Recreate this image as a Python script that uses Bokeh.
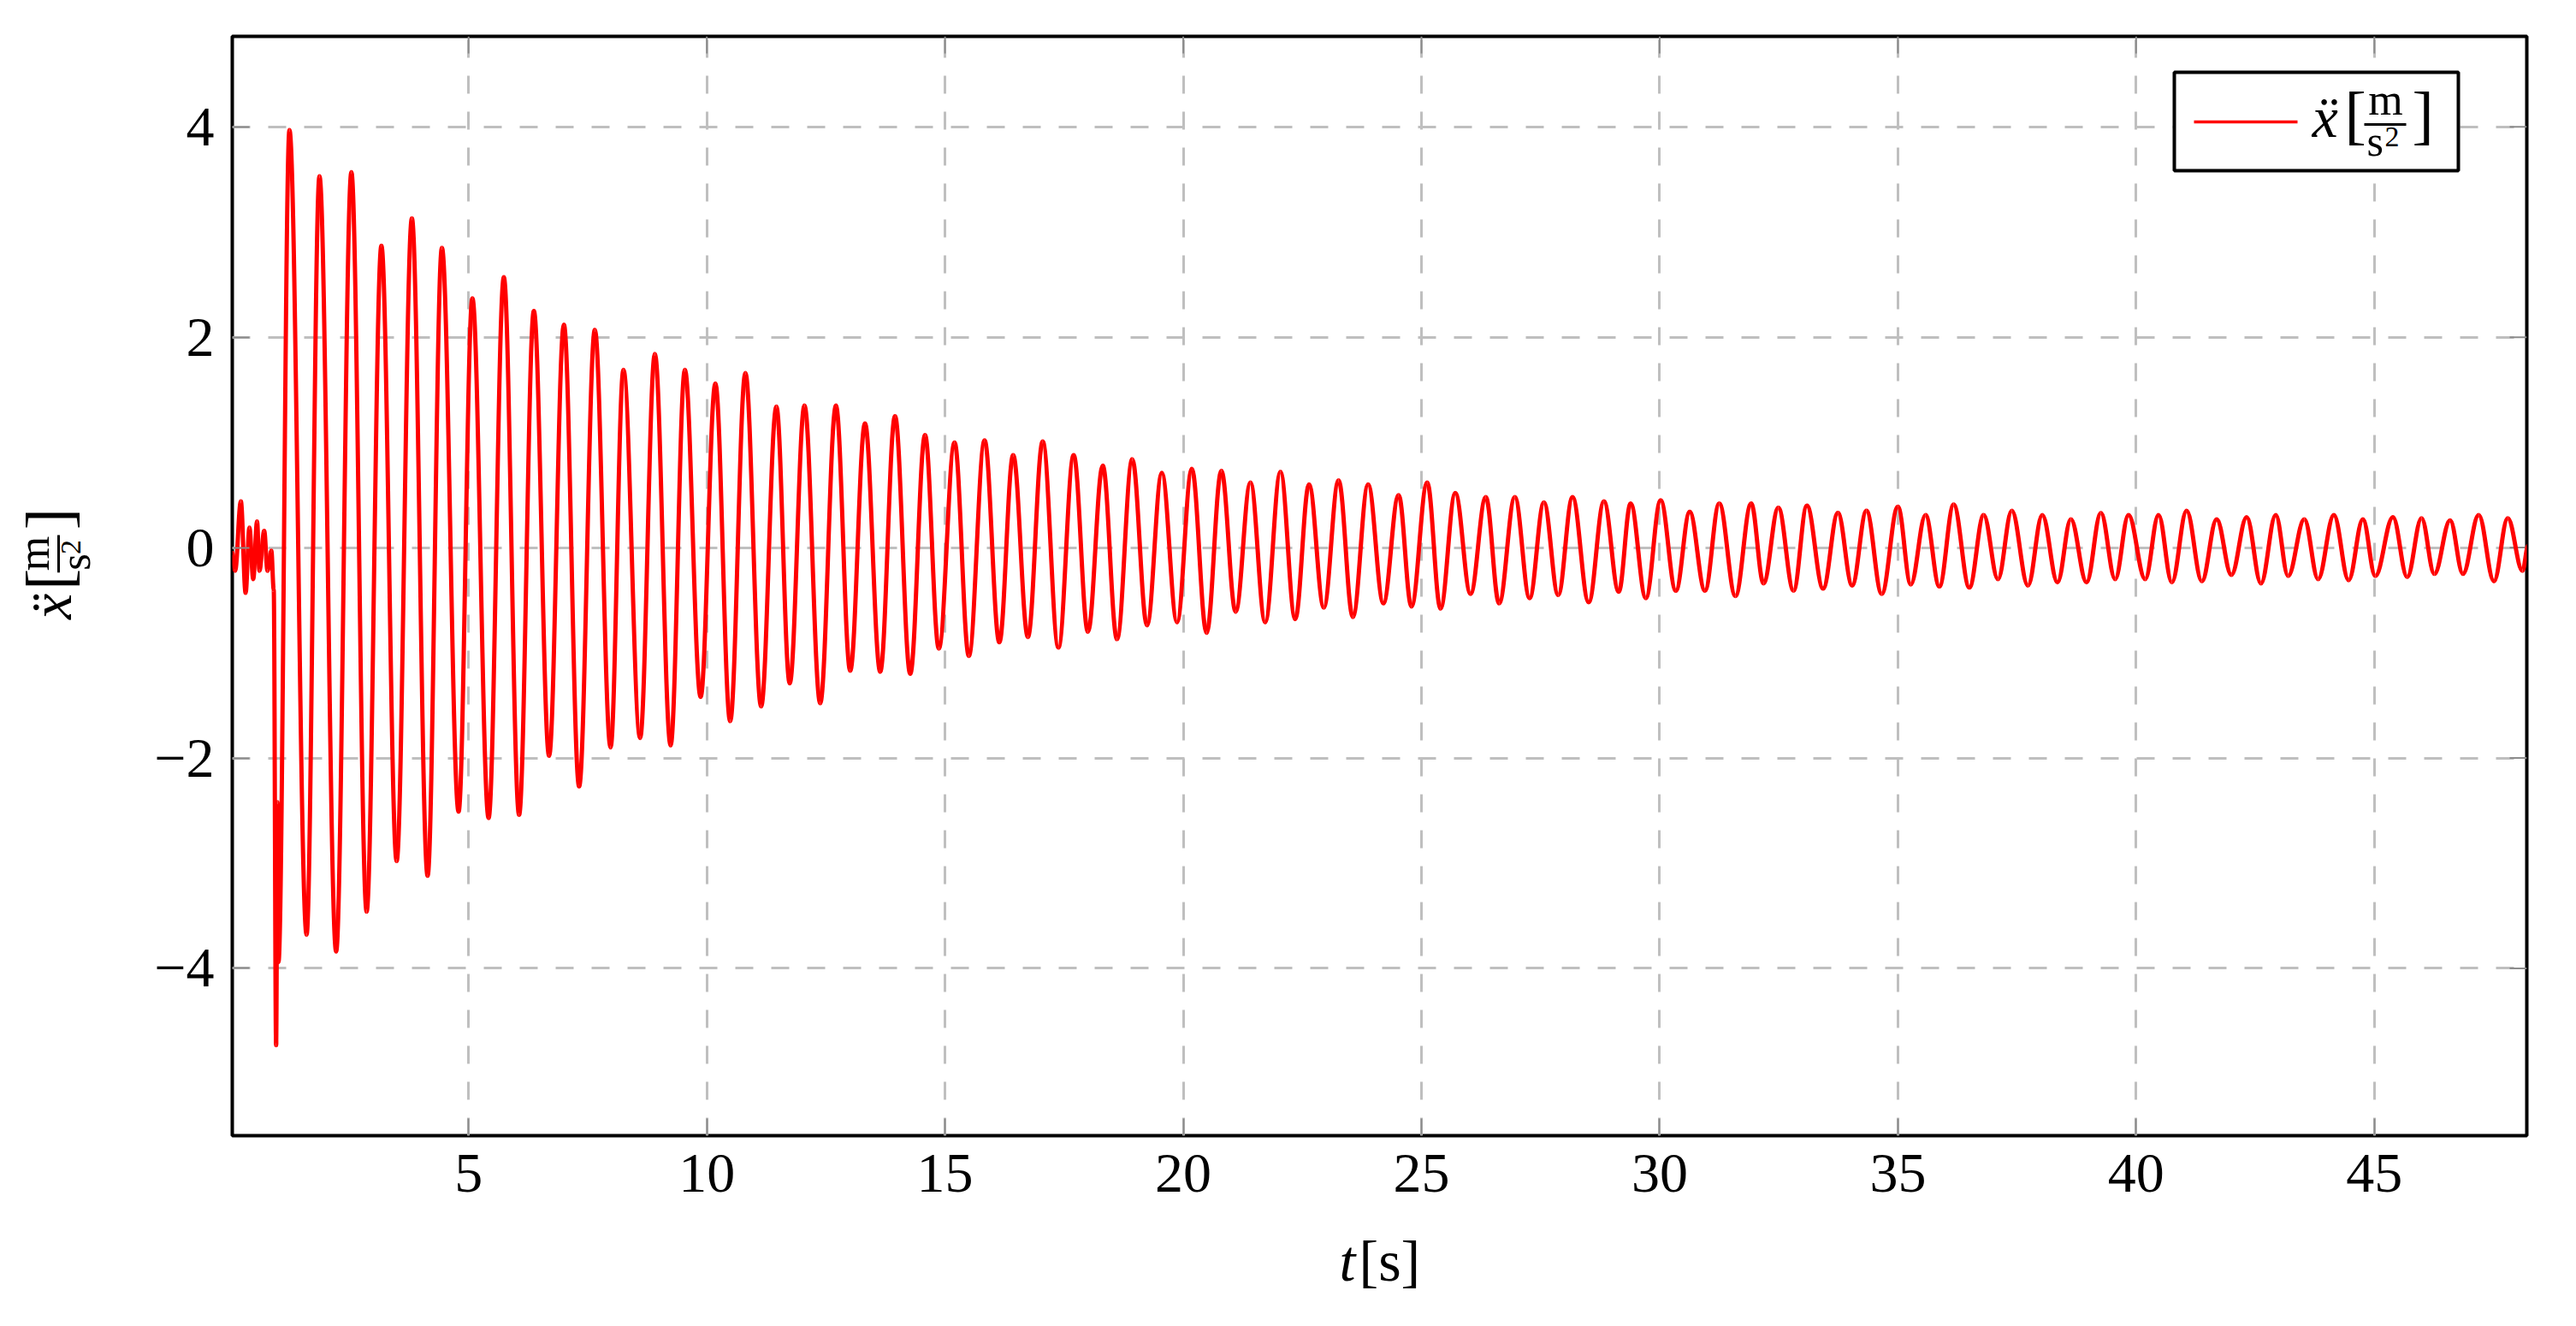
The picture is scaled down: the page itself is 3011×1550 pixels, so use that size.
import numpy as np
from bokeh.plotting import figure
from bokeh.layouts import row, column
from bokeh.models import (Range1d, FixedTicker, BoxAnnotation, Label, Arrow, ColumnDataSource)
from bokeh.embed import file_html
from bokeh.resources import INLINE

# ---------------- data (extrema) ----------------
t_s = [0.04, 0.10, 0.22, 0.32, 0.40, 0.48, 0.56, 0.61, 0.71, 0.78, 0.86, 0.91, 0.96, 0.99, 1.01,
       1.24, 1.60, 1.87, 2.22, 2.54, 2.86, 3.17, 3.49, 3.81, 4.14, 4.44, 4.79, 5.08, 5.42, 5.74,
       6.06, 6.37, 6.69, 7.00, 7.32, 7.65,
       7.98, 8.25, 8.60, 8.91, 9.24, 9.54, 9.87, 10.18, 10.49, 10.81, 11.14, 11.46, 11.74, 12.05,
       12.38, 12.71, 13.01, 13.32, 13.64, 13.95, 14.27, 14.58, 14.87, 15.20, 15.50,
       15.83, 16.14, 16.43, 16.74, 17.05, 17.38, 17.70, 18.00, 18.31, 18.61, 18.93, 19.24, 19.55,
       19.87, 20.18, 20.49, 20.80, 21.10, 21.41, 21.72, 22.04, 22.35, 22.64, 22.95, 23.26, 23.56,
       23.88, 24.20, 24.52,
       24.79, 25.12, 25.40, 25.71, 26.03, 26.35, 26.63, 26.96, 27.27, 27.57, 27.87, 28.17, 28.51,
       28.83, 29.14, 29.39, 29.71, 30.02, 30.34, 30.63, 30.95, 31.25, 31.59, 31.92, 32.18,
       32.49, 32.81, 33.09, 33.43, 33.74, 34.04, 34.34, 34.66, 35.00, 35.27, 35.58, 35.87, 36.17,
       36.50, 36.80, 37.10, 37.39, 37.73, 38.03, 38.35, 38.63, 38.96, 39.26, 39.56, 39.84, 40.19,
       40.47, 40.75, 41.06, 41.38, 41.69, 42.00, 42.32, 42.62, 42.93, 43.19, 43.53, 43.82, 44.15,
       44.46, 44.76, 45.02, 45.39, 45.69, 45.99, 46.26, 46.59, 46.86, 47.19, 47.51, 47.80, 48.11,
       48.23]
acc_ms2 = [-0.05, -0.22, 0.44, -0.43, 0.19, -0.30, 0.25, -0.22, 0.16, -0.22, -0.03, -0.40, -4.73, -2.42, -3.94,
           3.97, -3.68, 3.53, -3.84, 3.57, -3.46, 2.87, -2.98, 3.13, -3.12, 2.85, -2.51, 2.37, -2.57, 2.57,
           -2.54, 2.25, -1.98, 2.12, -2.27, 2.07,
           -1.90, 1.69, -1.81, 1.84, -1.88, 1.69, -1.42, 1.56, -1.65, 1.66, -1.51, 1.34, -1.29, 1.35,
           -1.48, 1.35, -1.17, 1.18, -1.18, 1.25, -1.20, 1.07, -0.96, 1.00, -1.03,
           1.02, -0.90, 0.88, -0.85, 1.01, -0.95, 0.88, -0.80, 0.78, -0.87, 0.84, -0.74, 0.71,
           -0.71, 0.75, -0.81, 0.73, -0.61, 0.62, -0.71, 0.72, -0.68, 0.60, -0.57, 0.64, -0.66,
           0.60, -0.53, 0.50,
           -0.56, 0.62, -0.58, 0.52, -0.44, 0.48, -0.53, 0.48, -0.48, 0.43, -0.45, 0.48, -0.52,
           0.44, -0.42, 0.42, -0.48, 0.45, -0.41, 0.34, -0.41, 0.42, -0.46, 0.42, -0.34,
           0.38, -0.41, 0.40, -0.39, 0.33, -0.36, 0.35, -0.44, 0.39, -0.35, 0.31, -0.37, 0.41,
           -0.38, 0.31, -0.30, 0.35, -0.36, 0.31, -0.33, 0.27, -0.33, 0.33, -0.30, 0.31, -0.30,
           0.31, -0.33, 0.35, -0.32, 0.27, -0.26, 0.29, -0.34, 0.31, -0.27, 0.27, -0.30, 0.31,
           -0.31, 0.27, -0.27, 0.29, -0.28, 0.28, -0.25, 0.26, -0.25, 0.31, -0.32, 0.28, -0.22,
           0.02]

x_ticks = [5, 10, 15, 20, 25, 30, 35, 40, 45]
y_ticks = [-4, -2, 0, 2, 4]
y_tick_text = {-4: "\u22124", -2: "\u22122", 0: "0", 2: "2", 4: "4"}
x_label_var, x_label_unit = "t", "[s]"
series_name = "\u1e8d"          # x double-dot
unit_num, unit_den, unit_exp = "m", "s", "2"

# ---------------- layout (page pixel geometry) ----------------
W, H = 3003, 1542            # whole page area used
LW = 140                     # strip holding the y-axis title
HM = 1437                    # height of the main figure
X0, X1 = 0.04, 48.2
Y0, Y1 = -5.59, 4.86
PL, PR, PT, PB = 271, 2953, 42, 1327   # plot frame in page pixels
TICK = 20
SERIF = "Liberation Serif"
BASE_FIX = 0.37              # em offset between requested and drawn text baseline


def fx(px):   # page px -> main-figure data
    return X0 + (px - PL) / (PR - PL) * (X1 - X0)


def fy(py):
    return Y1 - (py - PT) / (PB - PT) * (Y1 - Y0)


def blank_fig(w, h, xr, yr):
    f = figure(width=w, height=h, x_range=Range1d(*xr), y_range=Range1d(*yr),
               output_backend="svg", toolbar_location=None, title=None,
               x_axis_location=None, y_axis_location=None,
               min_border=0, min_border_left=0, min_border_right=0,
               min_border_top=0, min_border_bottom=0)
    f.outline_line_color = None
    f.background_fill_color = "white"
    f.border_fill_color = "white"
    f.xgrid.visible = False
    f.ygrid.visible = False
    return f


# ---------------- main figure ----------------
p = figure(width=W - LW, height=HM, x_range=Range1d(X0, X1), y_range=Range1d(Y0, Y1),
           output_backend="svg", toolbar_location=None, title=None,
           min_border_left=PL - LW, min_border_right=(W - LW) - (PR - LW),
           min_border_top=PT, min_border_bottom=HM - PB)
p.background_fill_color = "white"
p.border_fill_color = "white"
p.outline_line_color = "black"
p.outline_line_width = 4

p.xaxis.ticker = FixedTicker(ticks=x_ticks, minor_ticks=[])
p.yaxis.ticker = FixedTicker(ticks=y_ticks, minor_ticks=[])
p.yaxis.major_label_overrides = y_tick_text

for ax in list(p.xaxis) + list(p.yaxis):
    ax.axis_line_color = None
    ax.major_tick_in = TICK
    ax.major_tick_out = 0
    ax.minor_tick_in = 0
    ax.minor_tick_out = 0
    ax.major_tick_line_color = "#8c8c8c"
    ax.major_tick_line_width = 2
    ax.major_label_text_font = SERIF
    ax.major_label_text_font_size = "66px"
    ax.major_label_text_color = "black"

p.xaxis.major_label_standoff = 22
p.yaxis.major_label_standoff = 21

p.xgrid.ticker = FixedTicker(ticks=x_ticks, minor_ticks=[])
p.ygrid.ticker = FixedTicker(ticks=y_ticks, minor_ticks=[])
for g in (p.xgrid[0], p.ygrid[0]):
    g.grid_line_color = "#bfbfbf"
    g.grid_line_width = 3
    g.grid_line_dash = "21 21"

# ticks mirrored on the top and right edges
dx_tick = TICK / (PR - PL) * (X1 - X0)
dy_tick = TICK / (PB - PT) * (Y1 - Y0)
p.segment(x0=x_ticks, y0=[Y1] * len(x_ticks), x1=x_ticks, y1=[Y1 - dy_tick] * len(x_ticks),
          line_color="#8c8c8c", line_width=2)
p.segment(x0=[X1] * len(y_ticks), y0=y_ticks, x1=[X1 - dx_tick] * len(y_ticks), y1=y_ticks,
          line_color="#8c8c8c", line_width=2)

# curve: smooth strokes between the read extrema
tt = np.array(t_s, dtype=float)
aa = np.array(acc_ms2, dtype=float)
dx = np.diff(tt)
k = 0.3642
src = ColumnDataSource(dict(x0=tt[:-1], y0=aa[:-1], x1=tt[1:], y1=aa[1:],
                            cx0=tt[:-1] + k * dx, cy0=aa[:-1],
                            cx1=tt[1:] - k * dx, cy1=aa[1:]))
p.bezier(x0="x0", y0="y0", x1="x1", y1="y1", cx0="cx0", cy0="cy0", cx1="cx1", cy1="cy1",
         source=src, line_color="#ff0000", line_width=5)


# ---------------- helpers for composed texts ----------------
def add_text(fig, tx, ty, X, Y, text, size, style="normal", align="left", angle=0.0):
    fig.add_layout(Label(x=tx(X), y=ty(Y), text=text,
                         text_font=SERIF, text_font_size=f"{size}px", text_font_style=style,
                         text_align=align, text_baseline="alphabetic", text_color="black",
                         angle=angle))


def add_bar(fig, tx, ty, xs, ys, xe, ye, color, width):
    fig.add_layout(Arrow(end=None, x_start=tx(xs), y_start=ty(ys), x_end=tx(xe), y_end=ty(ye),
                         line_color=color, line_width=width))


def math_label(fig, tx, ty, ox, oy, rotated):
    # text, offset along reading direction, offset above baseline, size, style, align
    pieces = [
        (series_name, 0, 0, 68, "italic", "left"),
        ("[", 38, 0, 76, "normal", "left"),
        (unit_num, 86, 27, 52, "normal", "center"),
        (unit_den, 64, -21, 50, "normal", "left"),
        (unit_exp, 85, -10, 34, "normal", "left"),
        ("]", 117, 0, 76, "normal", "left"),
    ]
    for text, ddx, ddy, size, style, align in pieces:
        up = ddy + BASE_FIX * size
        if rotated:
            add_text(fig, tx, ty, ox - up, oy - ddx, text, size, style, align, np.pi / 2)
        else:
            add_text(fig, tx, ty, ox + ddx, oy - up, text, size, style, align, 0.0)
    if rotated:
        add_bar(fig, tx, ty, ox - 17, oy - 61, ox - 17, oy - 110, "black", 3)
    else:
        add_bar(fig, tx, ty, ox + 61, oy - 17, ox + 110, oy - 17, "black", 3)


# legend (inside the plot frame)
p.add_layout(BoxAnnotation(left=fx(2541), right=fx(2873), top=fy(84), bottom=fy(199),
                           fill_color="white", fill_alpha=1.0,
                           line_color="black", line_width=4, line_alpha=1.0))
add_bar(p, fx, fy, 2564, 142, 2685, 142, "#ff0000", 3.3)
math_label(p, fx, fy, 2702, 162, rotated=False)

# ---------------- y-axis title strip (left of the main figure) ----------------
ident = lambda v: v
left = blank_fig(LW, HM, (0, LW), (HM, 0))
math_label(left, ident, ident, 85, 762, rotated=True)

# ---------------- x-axis title strip (full width, below) ----------------
bottom = blank_fig(W, H - HM, (0, W), (H, HM))
add_text(bottom, ident, ident, 1584, 1499 - BASE_FIX * 68, x_label_var, 68, "italic", "right")
add_text(bottom, ident, ident, 1588, 1499 - BASE_FIX * 68, x_label_unit, 68, "normal", "left")

page = column(row(left, p, spacing=0), bottom, spacing=0)
open("out.html", "w").write(file_html(page, INLINE))
